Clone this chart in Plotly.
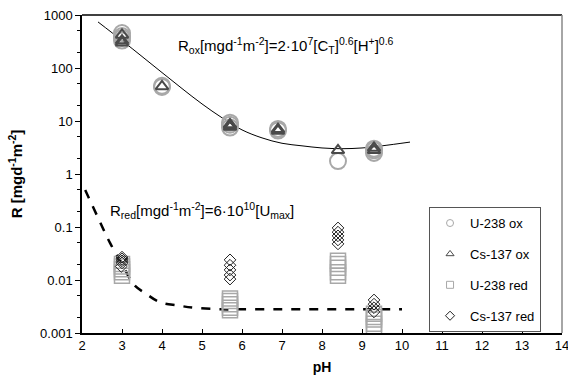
import plotly.graph_objects as go

# ---- data ----
ph_u_ox = [3, 3, 3, 3, 4, 4, 5.7, 5.7, 5.7, 6.9, 6.9, 8.4, 9.3, 9.3, 9.3]
r_u_ox = [457, 400, 368, 330, 44, 46, 7.5, 8.5, 9.3, 6.6, 7.1, 1.75, 2.5, 2.8, 3.0]

ph_cs_ox = [3, 3, 3, 4, 5.7, 5.7, 5.7, 6.9, 6.9, 8.4, 9.3, 9.3]
r_cs_ox = [420, 330, 300, 45, 7.7, 8.2, 8.6, 6.5, 7.0, 2.8, 2.8, 3.1]

ph_u_red = [3, 3, 3, 3, 3, 5.7, 5.7, 5.7, 5.7, 5.7, 8.4, 8.4, 8.4, 8.4, 8.4, 9.3, 9.3, 9.3, 9.3, 9.3]
r_u_red = [0.012, 0.014, 0.016, 0.018, 0.02, 0.0027, 0.003, 0.0035, 0.004, 0.0045,
           0.012, 0.014, 0.017, 0.02, 0.023, 0.0013, 0.0015, 0.0018, 0.002, 0.0023]

ph_cs_red = [3, 3, 3, 3, 2.98, 5.7, 5.7, 5.7, 5.7, 5.7, 8.4, 8.4, 8.4, 8.4, 8.4, 9.3, 9.3, 9.3, 9.3]
r_cs_red = [0.027, 0.025, 0.023, 0.021, 0.018, 0.024, 0.019, 0.0155, 0.0124, 0.0104,
            0.096, 0.080, 0.068, 0.057, 0.048, 0.0042, 0.0035, 0.0030, 0.0025]

ph_fit_ox = [2.4, 3, 3.5, 4, 4.5, 5, 5.5, 6, 6.5, 7, 7.5, 8, 8.5, 9, 9.5, 10.2]
r_fit_ox = [740, 330, 165, 82, 41, 21, 11.5, 6.8, 4.8, 3.8, 3.4, 3.1, 3.0, 3.1, 3.4, 4.0]

ph_fit_red = [2.08, 2.4, 2.7, 3.0, 3.3, 3.6, 3.95, 4.4, 4.8, 5.5, 6, 7, 8, 9, 10]
r_fit_red = [0.5, 0.15, 0.05, 0.02, 0.0081, 0.0055, 0.0038, 0.0033, 0.0030, 0.0028,
             0.0028, 0.0028, 0.0028, 0.0028, 0.0028]

y_tickvals = [0.001, 0.01, 0.1, 1, 10, 100, 1000]
y_ticktext = ["0.001", "0.01", "0.1", "1", "10", "100", "1000"]
x_tickvals = list(range(2, 15))

FONT = "Liberation Sans, Arial, sans-serif"
C_LIGHT = "#a8a8a8"
C_DARK = "#4a4a4a"

fig = go.Figure()

fig.add_trace(go.Scatter(x=ph_fit_ox, y=r_fit_ox, mode="lines", line=dict(color="black", width=1, shape="spline"),
                         showlegend=False, hoverinfo="skip"))
fig.add_trace(go.Scatter(x=ph_fit_red, y=r_fit_red, mode="lines",
                         line=dict(color="black", width=2.5, dash="dash", shape="spline"),
                         showlegend=False, hoverinfo="skip"))

fig.add_trace(go.Scatter(x=ph_u_ox, y=r_u_ox, mode="markers", showlegend=False,
                         marker=dict(symbol="circle-open", size=16, color=C_LIGHT, line=dict(width=2))))
fig.add_trace(go.Scatter(x=ph_cs_ox, y=r_cs_ox, mode="markers", showlegend=False,
                         marker=dict(symbol="triangle-up-open", size=11, color=C_DARK, line=dict(width=2))))
fig.add_trace(go.Scatter(x=ph_u_red, y=r_u_red, mode="markers", showlegend=False,
                         marker=dict(symbol="square-open", size=15, color=C_LIGHT, line=dict(width=1.5))))
fig.add_trace(go.Scatter(x=ph_cs_red, y=r_cs_red, mode="markers", showlegend=False,
                         marker=dict(symbol="diamond-open", size=9, color="#222222", line=dict(width=1))))

# legend-only entries (small symbols)
legend_items = [("U-238 ox", "circle-open", C_LIGHT),
                ("Cs-137 ox", "triangle-up-open", C_DARK),
                ("U-238 red", "square-open", C_LIGHT),
                ("Cs-137 red", "diamond-open", "#222222")]
for i, (name, sym, col) in enumerate(legend_items):
    fig.add_trace(go.Scatter(x=[None], y=[None], mode="markers", name=name, legendgroup=f"g{i}",
                             marker=dict(symbol=sym, size=7, color=col, line=dict(width=1))))

fig.add_annotation(x=4.35, y=2.434, xref="x", yref="y", xanchor="left", yanchor="middle", showarrow=False,
                   text="R<sub>ox</sub>[mgd<sup>-1</sup>m<sup>-2</sup>]=2·10<sup>7</sup>[C<sub>T</sub>]<sup>0.6</sup>[H<sup>+</sup>]<sup>0.6</sup>",
                   font=dict(family=FONT, size=15, color="black"))
fig.add_annotation(x=2.65, y=-0.68, xref="x", yref="y", xanchor="left", yanchor="middle", showarrow=False,
                   text="R<sub>red</sub>[mgd<sup>-1</sup>m<sup>-2</sup>]=6·10<sup>10</sup>[U<sub>max</sub>]",
                   font=dict(family=FONT, size=15, color="black"))

fig.update_layout(
    width=568, height=386,
    margin=dict(l=82, r=6, t=15, b=53, autoexpand=False),
    paper_bgcolor="white", plot_bgcolor="white",
    font=dict(family=FONT, size=13, color="black"),
    showlegend=True,
    legend=dict(x=0.723, y=0.396, xanchor="left", yanchor="top",
                bordercolor="#555555", borderwidth=1, bgcolor="white",
                font=dict(family=FONT, size=13, color="black"),
                traceorder="grouped", tracegroupgap=11, itemwidth=30),
    xaxis=dict(range=[1.9999, 14.0001], tickvals=x_tickvals, ticks="inside", ticklen=4, tickcolor="black",
               ticklabeloverflow="allow", automargin=False,
               showline=True, linecolor="black", linewidth=1.5, mirror=False, showgrid=False, zeroline=False,
               title=dict(text="<b>pH</b>", font=dict(family=FONT, size=14), standoff=10),
               tickfont=dict(family=FONT, size=13)),
    xaxis2=dict(range=[1.9999, 14.0001], overlaying="x", tickvals=x_tickvals, ticks="outside", ticklen=3,
                tickcolor="black", showticklabels=False, showline=False, showgrid=False, zeroline=False,
                side="bottom", automargin=False),
    yaxis=dict(type="log", range=[-3, 3], tickvals=y_tickvals, ticktext=y_ticktext,
               ticks="outside", ticklen=5, tickcolor="black", automargin=False,
               minor=dict(ticks="outside", ticklen=3, tickcolor="black", showgrid=False),
               showline=True, linecolor="black", linewidth=1.5, showgrid=False, zeroline=False,
               title=dict(text="<b>R [mgd<sup>-1</sup>m<sup>-2</sup>]</b>", font=dict(family=FONT, size=15), standoff=14),
               tickfont=dict(family=FONT, size=13)),
)

# plot frame: top black line, right gray line
fig.add_shape(type="line", xref="paper", yref="paper", x0=0, x1=1, y0=1, y1=1, line=dict(color="black", width=1.5))
fig.add_shape(type="line", xref="paper", yref="paper", x0=1, x1=1, y0=0, y1=1, line=dict(color="#888888", width=1.5))

fig.write_html("out.html")
